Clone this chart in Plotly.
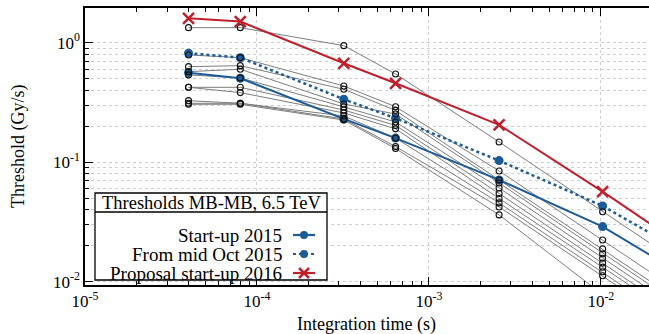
import plotly.graph_objects as go

# ---------------- data ----------------
t = [4e-5, 8e-5, 3.2e-4, 6.4e-4, 2.56e-3, 1.024e-2, 8.192e-2]

startup_2015 = [0.561, 0.504, 0.230, 0.159, 0.0710, 0.0289, 0.0048]
mid_oct_2015 = [0.815, 0.749, 0.336, 0.233, 0.103, 0.0430, 0.0078]
proposal_2016 = [1.60, 1.50, 0.672, 0.457, 0.205, 0.0566, 0.0075]

gray_1 = [1.335, 1.335, 0.944, 0.547, 0.1476, 0.0385, 0.0052]
gray_2 = [0.789, 0.749, 0.434, 0.291, 0.0844, 0.0223, 0.0030]
gray_3 = [0.630, 0.642, 0.407, 0.271, 0.0710, 0.0188, 0.0025]
gray_4 = [0.572, 0.599, 0.307, 0.253, 0.0670, 0.0171, 0.0023]
gray_5 = [0.537, 0.507, 0.290, 0.217, 0.0608, 0.0157, 0.0021]
gray_6 = [0.423, 0.423, 0.273, 0.203, 0.0547, 0.0143, 0.0019]
gray_7 = [0.423, 0.382, 0.258, 0.190, 0.0497, 0.0132, 0.0018]
gray_8 = [0.327, 0.311, 0.2435, 0.159, 0.0456, 0.0121, 0.0016]
gray_9 = [0.311, 0.311, 0.230, 0.135, 0.0422, 0.0112, 0.0015]
gray_10 = [0.305, 0.305, 0.225, 0.130, 0.0362, 0.0078, 0.0010]
gray_curves = [gray_1, gray_2, gray_3, gray_4, gray_5,
               gray_6, gray_7, gray_8, gray_9, gray_10]

x_tickvals = [1e-5, 1e-4, 1e-3, 1e-2]
x_ticktext = ["10<sup>-5</sup>", "10<sup>-4</sup>", "10<sup>-3</sup>", "10<sup>-2</sup>"]
y_tickvals = [1e-2, 1e-1, 1e0]
y_ticktext = ["10<sup>-2</sup>", "10<sup>-1</sup>", "10<sup>0</sup>"]

x_title = "Integration time (s)"
y_title = "Threshold (Gy/s)"
legend_title = "Thresholds MB-MB, 6.5 TeV"
legend_labels = ["Start-up 2015", "From mid Oct 2015", "Proposal start-up 2016"]

# ---------------- style ----------------
BLUE = "#1d5b98"
RED = "#c01f2c"
GRAY = "#7d7d7d"
GRID = "#cfcfcf"
FONT = "Liberation Serif"

W, H = 649, 334
L, R, T, B = 85, 0, 8, 49
PW, PH = W - L - R, H - T - B

fig = go.Figure()

for g in gray_curves:
    fig.add_trace(go.Scatter(x=t, y=g, mode="lines", line=dict(color=GRAY, width=1),
                             showlegend=False, hoverinfo="skip"))

fig.add_trace(go.Scatter(x=t, y=startup_2015, mode="lines+markers",
                         line=dict(color=BLUE, width=2),
                         marker=dict(color=BLUE, size=9), showlegend=False))
fig.add_trace(go.Scatter(x=t, y=mid_oct_2015, mode="lines+markers",
                         line=dict(color=BLUE, width=2.5, dash="dot"),
                         marker=dict(color=BLUE, size=9), showlegend=False))

for g in gray_curves:
    fig.add_trace(go.Scatter(x=t, y=g, mode="markers",
                             marker=dict(symbol="circle-open", color="#111", size=6,
                                         line=dict(width=1.1, color="#111")),
                             showlegend=False, hoverinfo="skip"))

fig.add_trace(go.Scatter(x=t, y=proposal_2016, mode="lines+markers",
                         line=dict(color=RED, width=2),
                         marker=dict(symbol="x-thin", size=11, color=RED,
                                     line=dict(width=2.5, color=RED)),
                         showlegend=False))

# ---------------- custom legend (pixel -> paper) ----------------
def px(v):
    return (v - L) / PW

def py(v):
    return (H - B - v) / PH

bx0, bx1, by0, by1 = 95, 327, 193, 280
sep_y = 212
rows = [235, 254, 273]
shapes = [
    dict(type="rect", xref="paper", yref="paper", x0=px(bx0), x1=px(bx1), y0=py(by1), y1=py(by0),
         fillcolor="white", line=dict(color="black", width=1.3), layer="above"),
    dict(type="line", xref="paper", yref="paper", x0=px(bx0), x1=px(bx1), y0=py(sep_y), y1=py(sep_y),
         line=dict(color="black", width=1.3), layer="above"),
]
annotations = [
    dict(text=legend_title, xref="paper", yref="paper", x=px((bx0 + bx1) / 2),
         y=py((by0 + sep_y) / 2 + 0.5), showarrow=False, xanchor="center", yanchor="middle",
         font=dict(family=FONT, size=18.5, color="black")),
    dict(text=x_title, xref="paper", yref="paper", x=px(366), y=py(324), showarrow=False,
         xanchor="center", yanchor="middle", font=dict(family=FONT, size=18, color="black")),
    dict(text=y_title, xref="paper", yref="paper", x=px(18), y=py(147), showarrow=False,
         textangle=-90, xanchor="center", yanchor="middle", font=dict(family=FONT, size=18, color="black")),
]
sym_x0, sym_x1, sym_c = 293, 315, 304
dashes = ["solid", "dot", "solid"]
colors = [BLUE, BLUE, RED]
for i, (lab, yy) in enumerate(zip(legend_labels, rows)):
    annotations.append(dict(text=lab, xref="paper", yref="paper", x=px(284), y=py(yy),
                            showarrow=False, xanchor="right", yanchor="middle",
                            font=dict(family=FONT, size=19, color="black")))
    shapes.append(dict(type="line", xref="paper", yref="paper", x0=px(sym_x0), x1=px(sym_x1),
                       y0=py(yy), y1=py(yy), line=dict(color=colors[i], width=2.2, dash=dashes[i]),
                       layer="above"))
    if i < 2:
        r = 4
        shapes.append(dict(type="circle", xref="paper", yref="paper", x0=px(sym_c - r), x1=px(sym_c + r),
                           y0=py(yy + r), y1=py(yy - r), fillcolor=BLUE, line=dict(color=BLUE, width=0),
                           layer="above"))
    else:
        r = 5
        for a, b in [((-r, -r), (r, r)), ((-r, r), (r, -r))]:
            shapes.append(dict(type="line", xref="paper", yref="paper", x0=px(sym_c + a[0]), x1=px(sym_c + b[0]),
                               y0=py(yy + a[1]), y1=py(yy + b[1]), line=dict(color=RED, width=2.5),
                               layer="above"))

x_minor = [m * 10.0 ** e for e in range(-5, -1) for m in range(2, 10)]
y_minor = [m * 10.0 ** e for e in range(-3, 1) for m in range(2, 10)]

fig.update_layout(
    template="none",
    width=W, height=H,
    margin=dict(l=L, r=R, t=T, b=B, autoexpand=False),
    paper_bgcolor="white", plot_bgcolor="white",
    font=dict(family=FONT, size=16, color="black"),
    shapes=shapes, annotations=annotations,
    xaxis=dict(type="log", range=[-5, -1.72], tickmode="array", tickvals=x_tickvals, ticktext=x_ticktext,
               ticks="inside", ticklen=8, tickcolor="black", showline=True, linecolor="black", linewidth=1.5,
               mirror="ticks", showgrid=True, gridcolor=GRID, griddash="dot", gridwidth=1, zeroline=False,
               tickfont=dict(family=FONT, size=17, color="black"), automargin=False,
               minor=dict(tickmode="array", tickvals=x_minor, ticks="inside", ticklen=4, tickcolor="black",
                          showgrid=False)),
    yaxis=dict(type="log", range=[-2.028, 0.29], tickmode="array", tickvals=y_tickvals, ticktext=y_ticktext,
               ticks="inside", ticklen=8, tickcolor="black", showline=True, linecolor="black", linewidth=1.5,
               mirror=False, showgrid=True, gridcolor=GRID, griddash="dot", gridwidth=1, zeroline=False,
               tickfont=dict(family=FONT, size=17, color="black"), automargin=False,
               minor=dict(tickmode="array", tickvals=y_minor, ticks="inside", ticklen=4, tickcolor="black",
                          showgrid=True, gridcolor=GRID, griddash="dot", gridwidth=1)),
)

fig.write_html("out.html", config={"displayModeBar": False},
               post_script="document.body.style.margin='0';document.body.style.padding='0';")
